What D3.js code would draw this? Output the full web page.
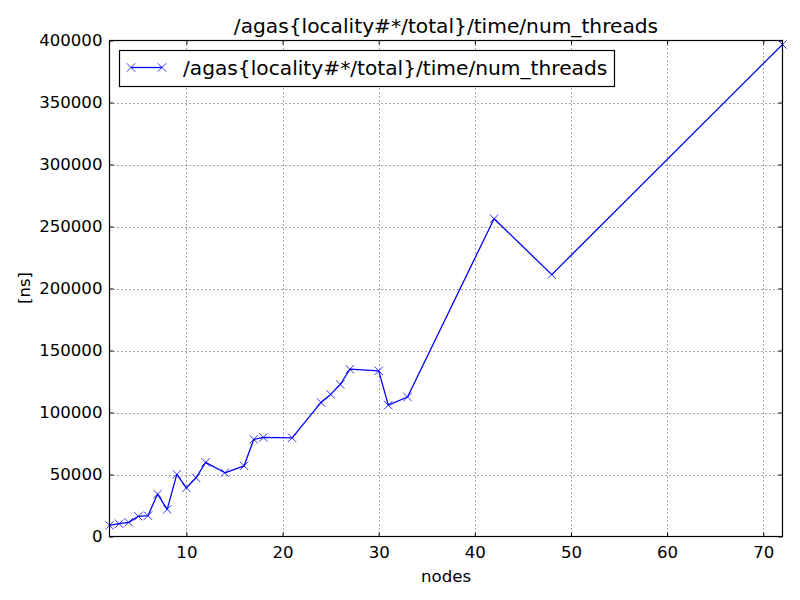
<!DOCTYPE html>
<html>
<head>
<meta charset="utf-8">
<script src="https://cdn.jsdelivr.net/npm/d3@7"></script>
<style>
  html, body { margin: 0; padding: 0; background: #fff; }
  svg { display: block; font-family: "DejaVu Sans", sans-serif; }
</style>
</head>
<body>
<svg id="chart" width="800" height="600"></svg>
<script>
const seriesName = "/agas{locality#*/total}/time/num_threads";
const nodes = [2, 3, 4, 5, 6, 7, 8, 9, 10, 11, 12, 14, 16, 17, 18, 21, 24, 25, 26, 27, 30, 31, 33, 42, 48, 72];
const timeNs = [9000, 10300, 11400, 16300, 16800, 34200, 21900, 50100, 39300, 47400, 59800, 51400, 57000, 78300, 79900, 79600, 108100, 114600, 122600, 134900, 133600, 105900, 112500, 256300, 211200, 396800];
const xTicks = [10, 20, 30, 40, 50, 60, 70];
const yTicks = [0, 50000, 100000, 150000, 200000, 250000, 300000, 350000, 400000];

const svg = d3.select("#chart");
const L = 109.5, R = 782.5, T = 40.5, B = 536.5;
const fs = 16.6;
const fsL = 20.2;

const x = d3.scaleLinear().domain([2, 72]).range([L, R]);
const y = d3.scaleLinear().domain([0, 400000]).range([B, T]);

svg.append("rect").attr("width", 800).attr("height", 600).attr("fill", "#fff");

// grid
const grid = svg.append("g").attr("stroke", "#000").attr("stroke-width", 0.7).attr("stroke-dasharray", "1,3");
grid.selectAll(".gx").data(xTicks).join("line")
  .attr("x1", d => Math.round(x(d)) + 0.5).attr("x2", d => Math.round(x(d)) + 0.5)
  .attr("y1", T).attr("y2", B);
grid.selectAll(".gy").data(yTicks.slice(1, -1)).join("line")
  .attr("y1", d => Math.round(y(d)) + 0.5).attr("y2", d => Math.round(y(d)) + 0.5)
  .attr("x1", L).attr("x2", R);

// axes (inward ticks on all sides)
const axB = d3.axisBottom(x).tickValues(xTicks).tickSizeInner(-4).tickSizeOuter(0).tickPadding(10).tickFormat(d3.format("d"));
const axT = d3.axisTop(x).tickValues(xTicks).tickSizeInner(-4).tickSizeOuter(0).tickFormat("");
const axL = d3.axisLeft(y).tickValues(yTicks).tickSizeInner(-4).tickSizeOuter(0).tickPadding(7).tickFormat(d3.format("d"));
const axR = d3.axisRight(y).tickValues(yTicks).tickSizeInner(-4).tickSizeOuter(0).tickFormat("");

function style(g) {
  g.select(".domain").remove();
  g.selectAll("line").attr("stroke", "#000").attr("stroke-width", 1);
  g.selectAll("text").attr("fill", "#000").style("font-size", fs + "px").style("font-family", "DejaVu Sans");
}
svg.append("g").attr("transform", `translate(0,${B})`).call(axB).call(style);
svg.append("g").attr("transform", `translate(0,${T})`).call(axT).call(style);
svg.append("g").attr("transform", `translate(${L},0)`).call(axL).call(style);
svg.append("g").attr("transform", `translate(${R},0)`).call(axR).call(style);

// line
const pts = nodes.map((n, i) => [n, timeNs[i]]);
svg.append("path").datum(pts)
  .attr("fill", "none").attr("stroke", "#0000ff").attr("stroke-width", 1.3)
  .attr("stroke-linejoin", "round")
  .attr("d", d3.line().x(d => x(d[0])).y(d => y(d[1])));

// markers
const ms = 4.2;
const mk = svg.append("g").attr("stroke", "#0000ff").attr("stroke-width", 0.8);
pts.forEach(d => {
  const cx = x(d[0]), cy = y(d[1]);
  mk.append("line").attr("x1", cx - ms).attr("y1", cy - ms).attr("x2", cx + ms).attr("y2", cy + ms);
  mk.append("line").attr("x1", cx - ms).attr("y1", cy + ms).attr("x2", cx + ms).attr("y2", cy - ms);
});

// frame
svg.append("rect").attr("x", L).attr("y", T).attr("width", R - L).attr("height", B - T)
  .attr("fill", "none").attr("stroke", "#000").attr("stroke-width", 1.2);

// title
svg.append("text").attr("x", (L + R) / 2).attr("y", 33).attr("text-anchor", "middle")
  .style("font-size", fsL + "px").text(seriesName);

// axis labels
svg.append("text").attr("x", (L + R) / 2).attr("y", 582).attr("text-anchor", "middle")
  .style("font-size", fs + "px").text("nodes");
svg.append("text").attr("transform", "translate(30,288) rotate(-90)").attr("text-anchor", "middle")
  .style("font-size", fs + "px").text("[ns]");

// legend
const lg = svg.append("g");
const ly = 67.5;
lg.append("rect").attr("x", 119.5).attr("y", 50.5).attr("width", 495).attr("height", 36)
  .attr("fill", "#fff").attr("stroke", "#000").attr("stroke-width", 1.2);
lg.append("line").attr("x1", 131).attr("x2", 162).attr("y1", ly).attr("y2", ly)
  .attr("stroke", "#0000ff").attr("stroke-width", 1.3);
[131, 162].forEach(cx => {
  lg.append("line").attr("x1", cx - ms).attr("y1", ly - ms).attr("x2", cx + ms).attr("y2", ly + ms).attr("stroke", "#0000ff").attr("stroke-width", 0.8);
  lg.append("line").attr("x1", cx - ms).attr("y1", ly + ms).attr("x2", cx + ms).attr("y2", ly - ms).attr("stroke", "#0000ff").attr("stroke-width", 0.8);
});
lg.append("text").attr("x", 183).attr("y", 75).style("font-size", fsL + "px").text(seriesName);
</script>
</body>
</html>
